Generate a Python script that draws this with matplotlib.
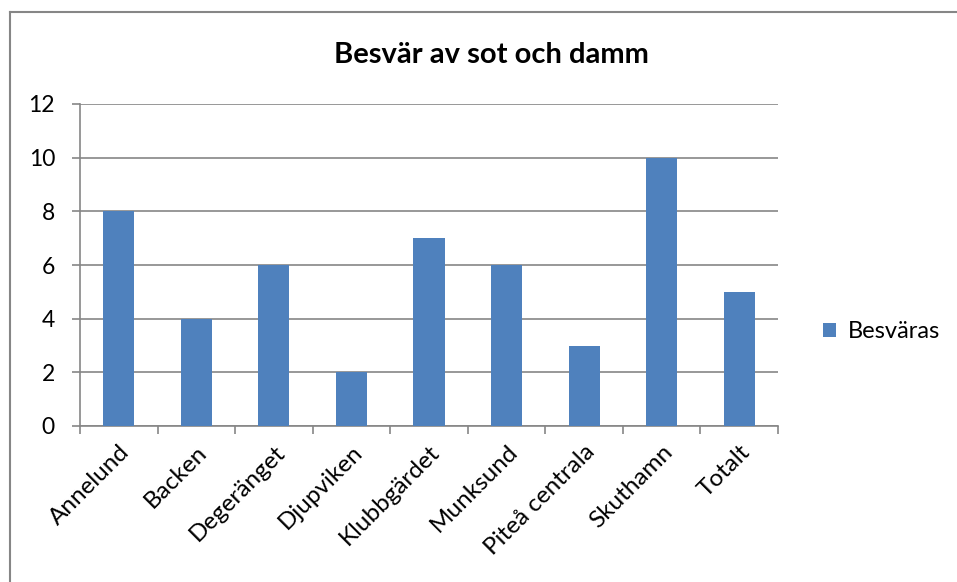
import matplotlib
matplotlib.use("Agg")
import matplotlib.pyplot as plt
from matplotlib.lines import Line2D
import numpy as np

categories = ["Annelund", "Backen", "Degeränget", "Djupviken", "Klubbgärdet",
              "Munksund", "Piteå centrala", "Skuthamn", "Totalt"]
values = [8, 4, 6, 2, 7, 6, 3, 10, 5]
series_name = "Besväras"
title = "Besvär av sot och damm"

plt.rcParams['font.family'] = ['Lato', 'DejaVu Sans']

W, H = 957, 582
fig = plt.figure(figsize=(W / 100, H / 100), dpi=100)

def fx(px):
    return px / W

def fy(py):
    return 1 - py / H

# outer chart border (top and left visible)
grey = "#868686"
fig.add_artist(Line2D([fx(10), fx(957)], [fy(12), fy(12)], color=grey, lw=1.5))
fig.add_artist(Line2D([fx(10), fx(10)], [fy(12), fy(582)], color=grey, lw=1.5))

ax = fig.add_axes([fx(80), fy(426), fx(778) - fx(80), fy(104) - fy(426)])

x = np.arange(len(categories))
bars = ax.bar(x, values, width=0.4, color="#4f81bd", label=series_name, zorder=3)

ax.set_xlim(-0.5, len(categories) - 0.5)
ax.set_ylim(0, 12)
ax.set_yticks(range(0, 13, 2))
ax.yaxis.grid(True, color=grey, lw=1.2, zorder=0)
ax.set_axisbelow(True)

for s in ["top", "right"]:
    ax.spines[s].set_visible(False)
for s in ["left", "bottom"]:
    ax.spines[s].set_color(grey)
    ax.spines[s].set_linewidth(1.2)

ax.set_xticks(np.arange(len(categories) + 1) - 0.5, minor=False)
ax.set_xticklabels([])
ax.set_xticks(x, minor=True)
ax.set_xticklabels(categories, minor=True, rotation=45, ha="right",
                   rotation_mode="anchor", fontsize=17.5)
ax.tick_params(axis="x", which="major", length=6, color=grey, width=1.2, direction="out")
ax.tick_params(axis="x", which="minor", length=0, pad=11)
ax.tick_params(axis="y", length=6, color=grey, width=1.2, labelsize=16.5, pad=12)

fig.text(fx(491), fy(55), title, ha="center", va="center", fontsize=21, fontweight="bold")

ax.legend(loc="center left", bbox_to_anchor=(fx(802), fy(332)),
          bbox_transform=fig.transFigure, frameon=False, fontsize=17,
          handlelength=0.55, handleheight=0.55, handletextpad=0.5)

fig.savefig("out.png", dpi=100)
